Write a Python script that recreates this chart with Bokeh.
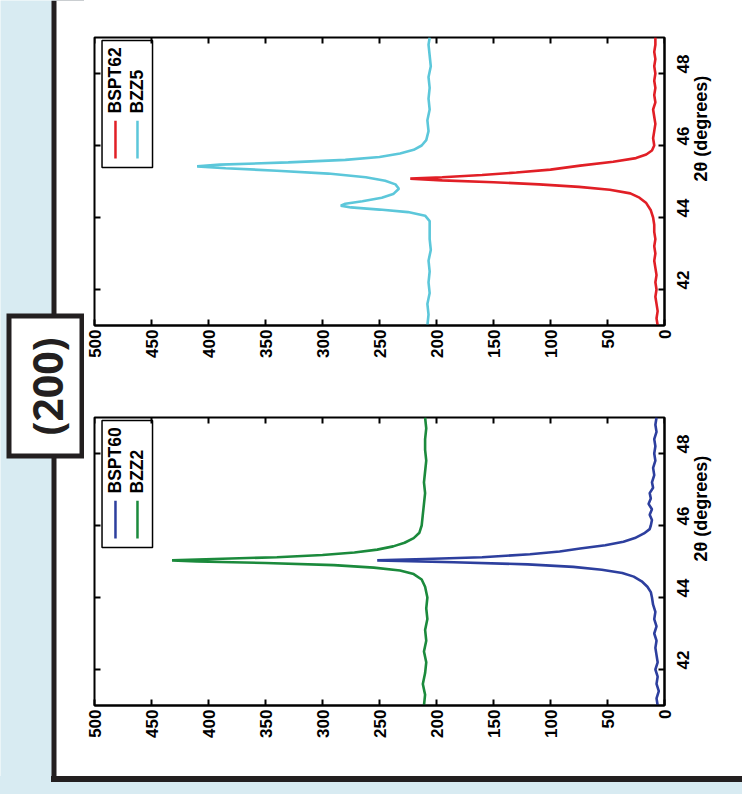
import math
from bokeh.plotting import figure
from bokeh.layouts import row, column
from bokeh.models import Range1d, FixedTicker, Label, BoxAnnotation, Div
from bokeh.embed import file_html
from bokeh.resources import INLINE
from bokeh.core.properties import value

# ---------------- data ----------------
intensity_ticks = [0, 50, 100, 150, 200, 250, 300, 350, 400, 450, 500]
theta_ticks = [42, 44, 46, 48]

theta_bspt60 = [41.0, 41.2, 41.4, 41.6, 41.8, 42.0, 42.2, 42.4, 42.6, 42.8, 43.0, 43.2, 43.4, 43.6, 43.8,
                44.0, 44.15, 44.3, 44.45, 44.58, 44.68, 44.77, 44.85, 44.92, 44.98, 45.03, 45.07,
                45.12, 45.2, 45.28, 45.36, 45.45, 45.55, 45.65, 45.78, 45.9,
                46.0, 46.15, 46.3, 46.45, 46.6, 46.75, 46.9, 47.05, 47.2,
                47.4, 47.6, 47.8, 48.0, 48.2, 48.4, 48.6, 48.8, 49.0]
int_bspt60 = [6, 7, 5, 7, 6, 8, 6, 7, 8, 7, 9, 7, 9, 8, 10,
              11, 12, 15, 20, 27, 37, 55, 80, 120, 185, 252, 210,
              160, 118, 92, 74, 52, 36, 26, 18, 13,
              12, 11, 13, 11, 14, 12, 13, 10, 11,
              9, 10, 8, 9, 8, 9, 7, 8, 7]

theta_bzz2 = [41.0, 41.3, 41.6, 41.9, 42.2, 42.5, 42.8, 43.1, 43.4, 43.7, 44.0,
              44.3, 44.5, 44.65, 44.75, 44.83, 44.9, 44.96, 45.0, 45.03, 45.07, 45.12, 45.18,
              45.25, 45.33, 45.42, 45.52, 45.65, 45.8,
              46.0, 46.3, 46.6, 46.9, 47.2, 47.5, 47.8, 48.1, 48.4, 48.7, 49.0]
int_bzz2 = [211, 210, 212, 210, 209, 211, 209, 210, 208, 209, 208,
            210, 213, 220, 232, 255, 290, 350, 410, 432, 395, 340, 300,
            272, 252, 238, 228, 220, 215,
            213, 212, 211, 210, 211, 210, 209, 210, 210, 209, 210]

theta_bspt62 = [41.0, 41.2, 41.4, 41.6, 41.8, 42.0, 42.2, 42.4, 42.6, 42.8, 43.0, 43.2, 43.4, 43.6, 43.8,
                44.0, 44.2, 44.4, 44.55, 44.67, 44.77, 44.85, 44.92, 44.98, 45.03, 45.08, 45.12,
                45.18, 45.25, 45.33, 45.44, 45.55, 45.65, 45.75, 45.86,
                46.0, 46.2, 46.4, 46.6, 46.8, 47.0, 47.2, 47.4, 47.6, 47.8, 48.0, 48.2, 48.4,
                48.6, 48.8, 49.0]
int_bspt62 = [6, 7, 6, 7, 8, 7, 8, 7, 8, 9, 8, 9, 8, 9, 9,
              10, 12, 16, 22, 30, 48, 75, 110, 150, 195, 223, 195,
              160, 130, 100, 74, 45, 25, 16, 11,
              9, 10, 9, 8, 9, 10, 8, 9, 8, 9, 8, 9, 8,
              9, 8, 8]

theta_bzz5 = [41.0, 41.3, 41.6, 41.9, 42.2, 42.5, 42.8, 43.1, 43.4, 43.7, 43.9,
              44.05, 44.15, 44.22, 44.28, 44.33, 44.38, 44.45, 44.55, 44.65, 44.8, 44.92, 45.02,
              45.12, 45.22, 45.3, 45.37, 45.42, 45.47, 45.53, 45.6, 45.68, 45.78, 45.88, 46.0, 46.15,
              46.4, 46.7, 47.0, 47.3, 47.6, 47.9, 48.2, 48.5, 48.8, 49.0]
int_bzz5 = [208, 207, 208, 206, 207, 206, 207, 205, 206, 206, 206,
            210, 225, 250, 275, 284, 280, 265, 248, 238, 233, 236, 245,
            262, 295, 340, 385, 410, 390, 330, 280, 250, 232, 220, 213, 209,
            207, 208, 206, 207, 206, 207, 205, 206, 207, 206]

panel_label = "(200)"
axis_title = "2\u03b8 (degrees)"

# ---------------- styles / layout constants ----------------
BLUE_BG = "#d8ebf2"
INK = "#231f20"
C_BLUE = "#2d3f9e"
C_GREEN = "#1b8a3c"
C_RED = "#e11f26"
C_CYAN = "#5cc7da"
FONT = "Liberation Sans"
TICK_PX = 6
LEFT_W = 84          # width of the left strip figure
PANEL_W = 742 - LEFT_W
BORDER_L = 94 - LEFT_W   # frame starts at x = 94
FRAME_W = 570
FRAME_H = 288
BOX_TOP, BOX_BOT, BOX_L, BOX_LW = 313, 458, 6, 5   # "(200)" box, page pixels


def style_axis(ax):
    ax.axis_line_width = 2
    ax.axis_line_color = "black"
    ax.major_tick_in = TICK_PX
    ax.major_tick_out = 0
    ax.major_tick_line_width = 2
    ax.major_tick_line_color = "black"
    ax.minor_tick_line_color = None
    ax.major_label_text_font = FONT
    ax.major_label_text_font_style = "bold"
    ax.major_label_text_color = "black"
    ax.major_label_text_font_size = "17px"
    ax.major_label_orientation = math.pi / 2


def make_panel(height, top_b, bottom_b, series, names):
    p = figure(width=PANEL_W, height=height, x_range=Range1d(500, 0), y_range=Range1d(41, 49),
               output_backend="svg", toolbar_location=None, y_axis_location="right",
               min_border_left=BORDER_L, min_border_right=PANEL_W - BORDER_L - FRAME_W,
               min_border_top=top_b, min_border_bottom=bottom_b)
    p.background_fill_color = "white"
    p.border_fill_color = "white"
    p.outline_line_color = "black"
    p.outline_line_width = 2
    p.grid.visible = False

    xa = p.xaxis[0]
    xa.ticker = FixedTicker(ticks=intensity_ticks)
    style_axis(xa)
    xa.major_label_standoff = 4

    ya = p.yaxis[0]
    ya.ticker = FixedTicker(ticks=theta_ticks)
    style_axis(ya)
    ya.major_label_standoff = 18
    ya.axis_label = axis_title
    ya.axis_label_text_font = FONT
    ya.axis_label_text_font_style = "bold"
    ya.axis_label_text_font_size = "18px"
    ya.axis_label_text_color = "black"
    ya.axis_label_standoff = 3
    ya.axis_label_orientation = math.pi / 2

    # mirrored inward ticks on the opposite frame edges (MATLAB box style)
    dx = TICK_PX * 500.0 / FRAME_W
    dy = TICK_PX * 8.0 / FRAME_H
    p.segment(x0=intensity_ticks, y0=[49] * len(intensity_ticks), x1=intensity_ticks,
              y1=[49 - dy] * len(intensity_ticks), line_color="black", line_width=2)
    p.segment(x0=[500] * len(theta_ticks), y0=theta_ticks, x1=[500 - dx] * len(theta_ticks),
              y1=theta_ticks, line_color="black", line_width=2)

    for (th, inten, col) in series:
        p.line(x=inten, y=th, line_color=col, line_width=2.6)

    # legend (rotated, drawn by hand)
    p.add_layout(BoxAnnotation(left=493.4, right=449.1, bottom=45.39, top=48.92,
                               fill_color="white", fill_alpha=1, line_color="black",
                               line_alpha=1, line_width=1.5, level="underlay"))
    xs = [481.6, 462.3]
    for xpos, nm, (_, _, col) in zip(xs, names, series):
        p.segment(x0=[xpos], y0=[45.64], x1=[xpos], y1=[46.69], line_color=col,
                  line_width=2.5)
        p.add_layout(Label(x=xpos, y=46.89, text=nm, angle=math.pi / 2, text_align="left",
                           text_baseline="middle", text_font=FONT, text_font_style="bold",
                           text_font_size="17.5px", text_color="black", level="overlay"))
    return p


top = make_panel(370, 37, 45,
                 [(theta_bspt62, int_bspt62, C_RED), (theta_bzz5, int_bzz5, C_CYAN)],
                 ["BSPT62", "BZZ5"])
bottom = make_panel(406, 47, 71,
                    [(theta_bspt60, int_bspt60, C_BLUE), (theta_bzz2, int_bzz2, C_GREEN)],
                    ["BSPT60", "BZZ2"])

# left strip with the (200) label box
left = figure(width=LEFT_W, height=776, x_range=Range1d(0, LEFT_W), y_range=Range1d(776, 0),
              output_backend="svg", toolbar_location=None, x_axis_location=None,
              y_axis_location=None, min_border=0)
left.outline_line_color = None
left.grid.visible = False
left.background_fill_color = BLUE_BG
left.border_fill_color = BLUE_BG
left.quad(left=[51], right=[LEFT_W], top=[0], bottom=[776], fill_color=INK, line_color=None)
left.quad(left=[56], right=[LEFT_W], top=[0], bottom=[776], fill_color="white", line_color=None)
left.quad(left=[BOX_L], right=[LEFT_W], top=[BOX_TOP], bottom=[BOX_BOT], fill_color=INK,
          line_color=None)
left.quad(left=[BOX_L + BOX_LW], right=[LEFT_W - BOX_LW], top=[BOX_TOP + BOX_LW],
          bottom=[BOX_BOT - BOX_LW], fill_color="white", line_color=None)
left.text(x=[(BOX_L + LEFT_W) / 2 + 1], y=[386], text=[panel_label], angle=math.pi / 2,
          text_align="center", text_baseline="middle", text_font=value("Open Sans"),
          text_font_style="bold", text_font_size=value("41px"), text_color=INK)

# bottom strip: frame line of the panel + light-blue page background
footer_html = (
    '<div style="position:relative;width:742px;height:18px;background:%s;margin:0;padding:0;">'
    '<div style="position:absolute;left:51px;top:0;width:691px;height:6px;background:%s;"></div>'
    '</div>' % (BLUE_BG, INK)
)
footer = Div(text=footer_html, width=742, height=18, margin=0,
             styles={"padding": "0", "margin": "0", "background-color": BLUE_BG})

layout = column(row(left, column(top, bottom, spacing=0), spacing=0), footer, spacing=0)

open("out.html", "w").write(file_html(layout, INLINE))
